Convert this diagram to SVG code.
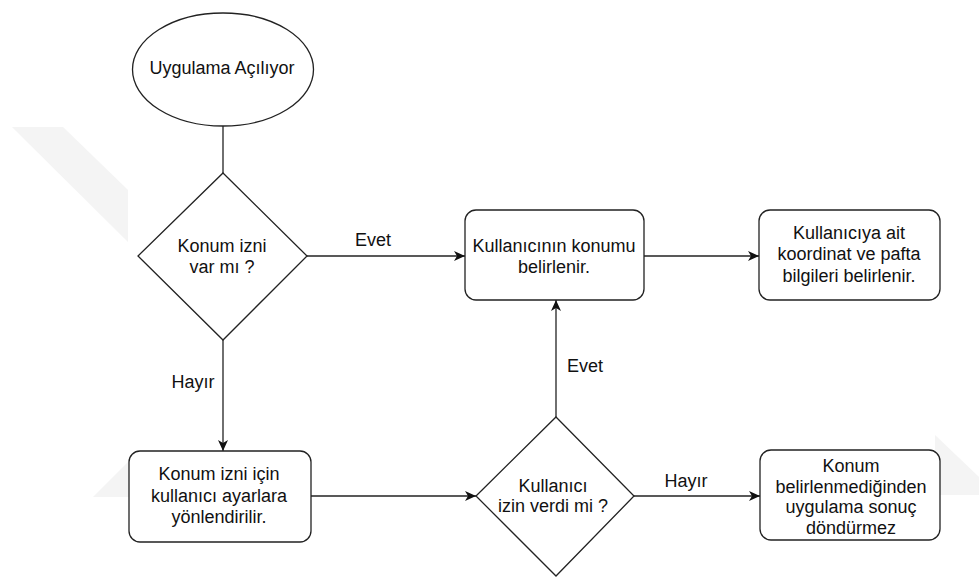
<svg xmlns="http://www.w3.org/2000/svg" width="979" height="580" viewBox="0 0 979 580">
<style>
.shape{fill:#fff;stroke:#222;stroke-width:1.3}
.t{font-family:"Liberation Sans",Arial,sans-serif;font-size:18px;fill:#111;text-anchor:middle}
.edge{fill:none;stroke:#222;stroke-width:1.3}
.wm{fill:#f4f4f4;stroke:none}
</style>
<defs>
<marker id="arr" markerUnits="userSpaceOnUse" markerWidth="12" markerHeight="10" refX="11" refY="5" orient="auto">
<path d="M0,0 L11,5 L0,10 L3,5 z" fill="#111"/>
</marker>
</defs>
<rect width="979" height="580" fill="#fff"/>
<g id="watermark">
<polygon class="wm" points="12,127 63,127 128,190 128,242"/>
<polygon class="wm" points="93,497 135,455 135,497"/>
<polygon class="wm" points="935,435 979,477 979,495 935,495"/>
</g>
<g id="edges">
<line class="edge" x1="223" y1="126" x2="223" y2="173"/>
<line class="edge" x1="307" y1="256" x2="465" y2="256" marker-end="url(#arr)"/>
<line class="edge" x1="644" y1="256" x2="759" y2="256" marker-end="url(#arr)"/>
<line class="edge" x1="223" y1="340" x2="223" y2="451" marker-end="url(#arr)"/>
<line class="edge" x1="311" y1="496" x2="476" y2="496" marker-end="url(#arr)"/>
<line class="edge" x1="556" y1="417" x2="556" y2="300" marker-end="url(#arr)"/>
<line class="edge" x1="634" y1="496" x2="760" y2="496" marker-end="url(#arr)"/>
<text class="t" x="373" y="246">Evet</text>
<text class="t" x="193" y="388">Hayır</text>
<text class="t" x="585" y="372">Evet</text>
<text class="t" x="686" y="487">Hayır</text>
</g>
<g id="start">
<ellipse class="shape" cx="223" cy="69.5" rx="90.5" ry="56.5"/>
<text class="t" x="222" y="74">Uygulama Açılıyor</text>
</g>
<g id="dec1">
<polygon class="shape" points="223,173 307,256 223,340 138,256"/>
<text class="t" x="222" y="252">Konum izni</text>
<text class="t" x="222" y="273">var mı ?</text>
</g>
<g id="box1">
<rect class="shape" x="465" y="210" width="179" height="90" rx="11"/>
<text class="t" x="554" y="252">Kullanıcının konumu</text>
<text class="t" x="554" y="273">belirlenir.</text>
</g>
<g id="box2">
<rect class="shape" x="759" y="210" width="181" height="90" rx="11"/>
<text class="t" x="849" y="239">Kullanıcıya ait</text>
<text class="t" x="849" y="260">koordinat ve pafta</text>
<text class="t" x="849" y="282">bilgileri belirlenir.</text>
</g>
<g id="box3">
<rect class="shape" x="129" y="451" width="182" height="91" rx="11"/>
<text class="t" x="219" y="480">Konum izni için</text>
<text class="t" x="219" y="502">kullanıcı ayarlara</text>
<text class="t" x="219" y="523">yönlendirilir.</text>
</g>
<g id="dec2">
<polygon class="shape" points="556,417 634,496 556,576 476,496"/>
<text class="t" x="553" y="492">Kullanıcı</text>
<text class="t" x="553" y="512">izin verdi mi ?</text>
</g>
<g id="box4">
<rect class="shape" x="760" y="450" width="180" height="90" rx="11"/>
<text class="t" x="851" y="472">Konum</text>
<text class="t" x="851" y="493">belirlenmediğinden</text>
<text class="t" x="851" y="513">uygulama sonuç</text>
<text class="t" x="851" y="534">döndürmez</text>
</g>
</svg>
